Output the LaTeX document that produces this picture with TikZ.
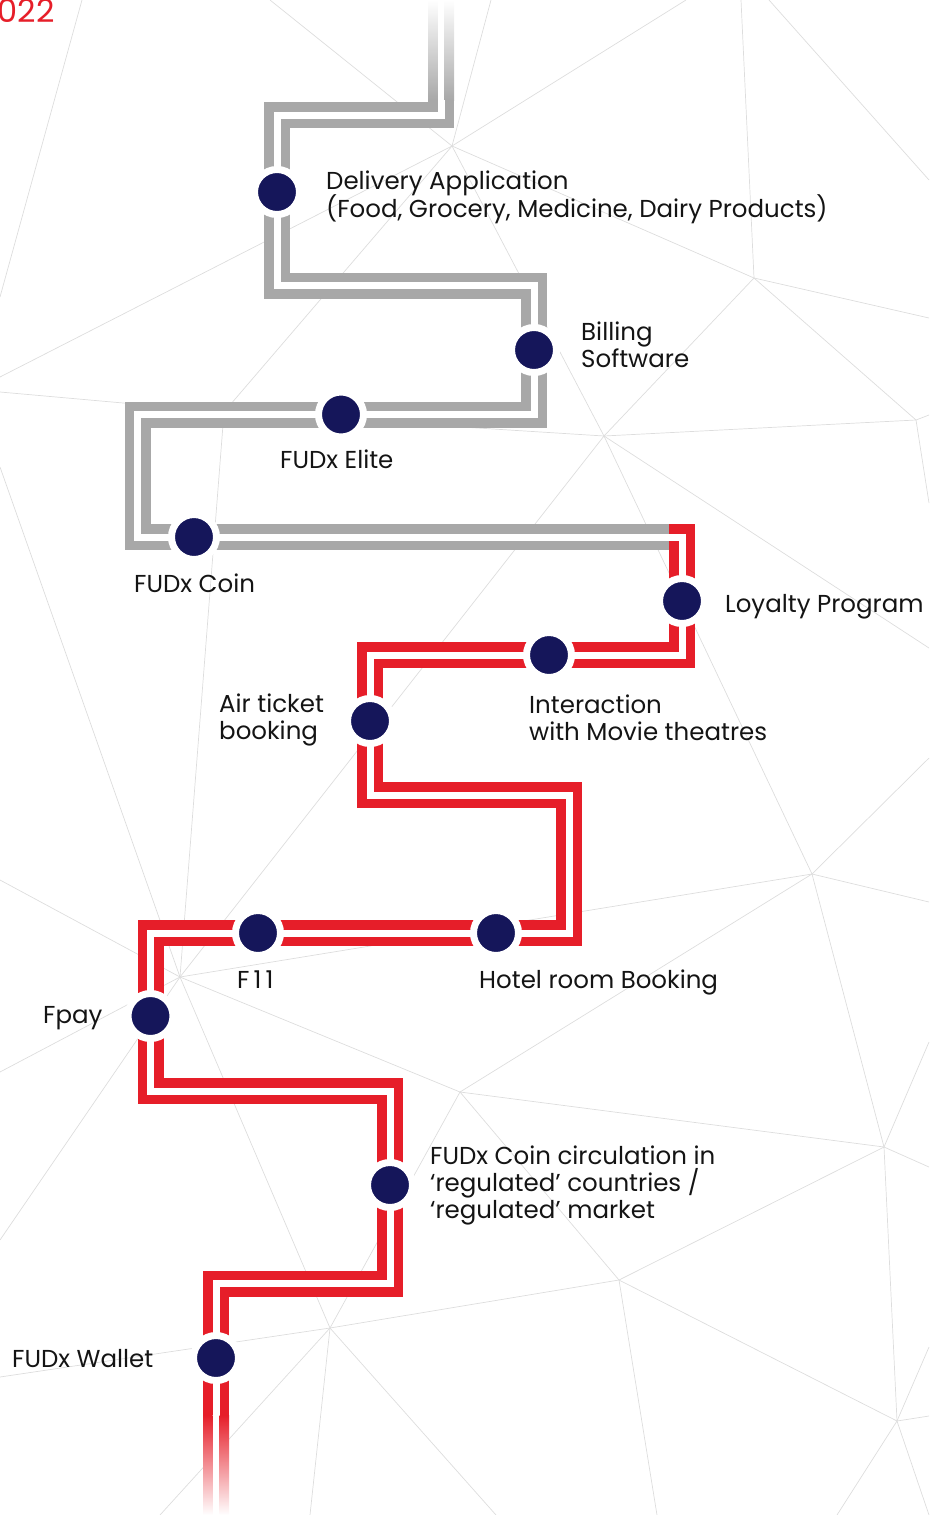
\documentclass[tikz,border=0pt]{standalone}
\usepackage{fontspec}
\setmainfont{Poppins}
\usetikzlibrary{backgrounds}

\definecolor{trackgray}{HTML}{A8A8A8}
\definecolor{trackred}{HTML}{E61E29}
\definecolor{dotnavy}{HTML}{15165A}
\definecolor{meshgray}{HTML}{DDDDDD}
\definecolor{labelblack}{HTML}{141414}

\begin{document}
\begin{tikzpicture}[
  x=1pt, y=-1pt,
  station/.style={circle, fill=dotnavy, draw=white, line width=7pt, minimum size=45pt, inner sep=0pt},
  lbl/.style={anchor=base west, align=left, inner sep=0pt, text=labelblack, font=\fontsize{24.5}{27}\selectfont},
  track/.style={draw=#1, double=white, line width=9.5pt, double distance=7pt, line join=miter, line cap=butt},
  mesh/.style={draw=meshgray, line width=0.7pt}
  ]
  \useasboundingbox (0,0) rectangle (929,1515);
  \clip (0,0) rectangle (929,1515);

  % ========== stations ==========
  \node[station] (deliv)   at (277,192)    {};
  \node[station] (billing) at (534,350)    {};
  \node[station] (elite)   at (341,414.5)  {};
  \node[station] (coin)    at (194,537)    {};
  \node[station] (loyalty) at (682,601)    {};
  \node[station] (movie)   at (549,655)    {};
  \node[station] (air)     at (370,721)    {};
  \node[station] (hotel)   at (496,933)    {};
  \node[station] (f11)     at (258,933)    {};
  \node[station] (fpay)    at (150.5,1016) {};
  \node[station] (circ)    at (390,1185)   {};
  \node[station] (wallet)  at (216,1358)   {};

  % ========== labels (base = last line) ==========
  \node[lbl] (deliv-l)   at (326,217)  {Delivery Application\\[-3pt](Food, Grocery, Medicine, Dairy Products)};
  \node[lbl] (billing-l) at (581,367)  {Billing\\Software};
  \node[lbl] (elite-l)   at (280,468)  {FUDx Elite};
  \node[lbl] (coin-l)    at (134,592)  {FUDx Coin};
  \node[lbl] (loyalty-l) at (725,612)  {Loyalty Program};
  \node[lbl] (movie-l)   at (529,740)  {Interaction\\with Movie theatres};
  \node[lbl] (air-l)     at (219,739)  {Air ticket\\booking};
  \node[lbl] (hotel-l)   at (479,988)  {Hotel room Booking};
  \node[lbl] (f11-l)     at (237,988)  {F\,1\,1};
  \node[lbl] (fpay-l)    at (43,1023)  {Fpay};
  \node[lbl] (circ-l)    at (430,1218) {FUDx Coin circulation in\\‘regulated’ countries /\\‘regulated’ market};
  \node[lbl] (wallet-l)  at (12,1367)  {FUDx Wallet};

  \node[anchor=base east, inner sep=0pt, text=trackred, font=\fontsize{32}{32}\selectfont] (year) at (55,22) {2022};

  \begin{pgfonlayer}{background}
    % ========== background mesh ==========
    \coordinate (v1) at (452,146);  \coordinate (v2) at (224,412);
    \coordinate (v3) at (604,436);  \coordinate (v4) at (754,278);
    \coordinate (v5) at (916,420);  \coordinate (v6) at (180,977);
    \coordinate (v7) at (812,874);  \coordinate (v8) at (460,1092);
    \coordinate (v9) at (330,1328); \coordinate (v10) at (884,1147);
    \coordinate (v11) at (619,1280); \coordinate (v12) at (897,1421);
    \foreach \a/\b in {v1/v2, v1/v3, v1/v4, v4/v3, v4/v5, v3/v5, v2/v3, v2/v6, v3/v6, v3/v7,
                       v6/v7, v6/v8, v6/v9, v7/v8, v7/v10, v8/v9, v8/v10, v8/v11, v9/v11,
                       v11/v10, v11/v12, v10/v12}
      \draw[mesh] (\a) -- (\b);
    \draw[mesh] (82,0) -- (0,297);
    \draw[mesh] (769,0) -- (929,180);
    \foreach \p in {(270,0), (491,0), (686,0), (0,377)} \draw[mesh] (v1) -- \p;
    \foreach \p in {(741,0), (929,318)} \draw[mesh] (v4) -- \p;
    \foreach \p in {(929,415), (929,503)} \draw[mesh] (v5) -- \p;
    \draw[mesh] (v2) -- (0,392);
    \draw[mesh] (v3) -- (929,648);
    \foreach \p in {(0,467), (0,880), (0,1072), (0,1240)} \draw[mesh] (v6) -- \p;
    \foreach \p in {(929,758), (929,902)} \draw[mesh] (v7) -- \p;
    \foreach \p in {(0,1377), (160,1515), (310,1515), (496,1515)} \draw[mesh] (v9) -- \p;
    \draw[mesh] (v11) -- (657,1515);
    \foreach \p in {(929,1042), (929,1167)} \draw[mesh] (v10) -- \p;
    \foreach \p in {(929,1416), (929,1347), (837,1515), (929,1515)} \draw[mesh] (v12) -- \p;

    % ========== grey line ==========
    \coordinate (gtop) at (441,100);
    \coordinate (junc) at (669,537);
    \fill[white] (428,0) rectangle (454,100);
    \shade[top color=white, bottom color=trackgray] (428,0) rectangle (437.5,100);
    \shade[top color=white, bottom color=trackgray] (444.5,0) rectangle (454,100);
    \draw[track=trackgray] (gtop) |- (deliv.center |- 0,115) -- (deliv.center) -- (deliv.center |- 0,285.5)
      -| (billing.center) |- (elite.center) -- (137.5,414.5) |- (coin.center) -- (junc);

    % ========== red line ==========
    \coordinate (rend) at (216,1415);
    \draw[track=trackred] (junc) -| (loyalty.center) |- (movie.center) -- (370,655)
      -- (air.center) |- (569,795) |- (hotel.center) -- (f11.center) -- (150.5,933)
      -- (fpay.center) |- (circ.center |- 0,1091) -- (circ.center) |- (wallet.center |- 0,1283.5)
      -- (wallet.center) -- (rend);
    \fill[white] (203,1415) rectangle (229,1515);
    \shade[top color=trackred, bottom color=white] (203,1415) rectangle (212.5,1515);
    \shade[top color=trackred, bottom color=white] (219.5,1415) rectangle (229,1515);
  \end{pgfonlayer}
\end{tikzpicture}
\end{document}
